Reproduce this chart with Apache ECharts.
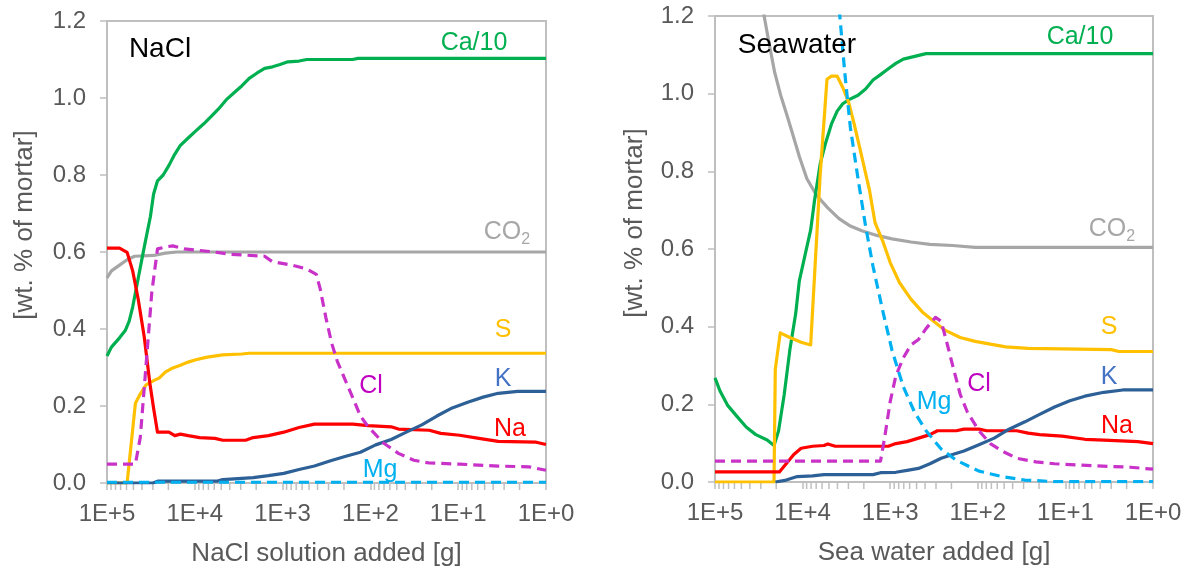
<!DOCTYPE html>
<html>
<head>
<meta charset="utf-8">
<script src="https://cdn.jsdelivr.net/npm/echarts@6/dist/echarts.min.js"></script>
<style>
  html, body { margin: 0; padding: 0; background: #ffffff; }
  #chart { width: 1195px; height: 572px; }
</style>
</head>
<body>
<div id="chart"></div>
<script>
// Mortar composition while solution is added; each pair is [grams added, wt.% of mortar].

// ---- NaCl solution ----
const naclCa10 = [[100000,0.33],[89000,0.353],[72000,0.377],[62000,0.396],[56000,0.42],[51000,0.457],[44000,0.533],[38000,0.608],[32000,0.693],[29500,0.75],[26600,0.785],[22900,0.80],[19700,0.825],[17000,0.853],[14600,0.877],[11900,0.896],[9800,0.914],[7900,0.933],[6500,0.952],[5400,0.971],[4400,0.995],[3600,1.013],[2900,1.032],[2400,1.051],[1950,1.065],[1600,1.077],[1300,1.081],[1070,1.087],[870,1.094],[650,1.096],[530,1.10],[160,1.10],[138,1.103],[1,1.103]];
const naclCO2 = [[100000,0.533],[89000,0.551],[72000,0.566],[59000,0.58],[48500,0.589],[29400,0.591],[21700,0.597],[16100,0.60],[1,0.60]];
const naclS = [[100000,0],[59000,0],[47500,0.207],[41800,0.231],[35900,0.255],[29400,0.266],[25300,0.273],[21700,0.288],[17800,0.299],[14600,0.306],[11900,0.314],[9750,0.32],[7200,0.327],[4830,0.333],[2920,0.335],[2390,0.337],[1,0.337]];
const naclNa = [[100000,0.61],[72000,0.61],[59000,0.599],[51000,0.551],[44000,0.476],[37800,0.382],[32500,0.259],[29400,0.193],[26600,0.132],[19700,0.132],[16900,0.123],[14600,0.127],[11900,0.123],[8800,0.118],[5900,0.116],[4800,0.111],[2640,0.111],[2160,0.118],[1450,0.123],[970,0.132],[650,0.144],[434,0.153],[159,0.153],[106,0.149],[58,0.146],[48,0.14],[21.4,0.137],[15.8,0.129],[9.6,0.124],[5.8,0.116],[3.5,0.108],[1.29,0.106],[1,0.10]];
const naclK = [[100000,0],[30000,0],[26000,0.005],[5500,0.005],[4800,0.009],[2160,0.014],[1450,0.019],[970,0.025],[650,0.035],[434,0.044],[290,0.057],[195,0.069],[130,0.08],[87,0.099],[58,0.113],[39,0.132],[26,0.151],[17.5,0.174],[11.7,0.195],[7.8,0.21],[5.2,0.223],[3.5,0.233],[2.1,0.238],[1,0.238]];
const naclCl = [[100000,0.049],[47500,0.049],[41800,0.118],[35900,0.306],[30900,0.495],[26600,0.608],[21700,0.613],[17800,0.616],[13200,0.608],[6500,0.601],[3950,0.594],[1600,0.589],[1310,0.575],[790,0.566],[530,0.556],[413,0.542],[373,0.504],[321,0.429],[276,0.363],[238,0.316],[195,0.269],[159,0.222],[130,0.174],[106,0.146],[71,0.104],[48,0.077],[32,0.059],[21.4,0.052],[9.6,0.049],[3.5,0.044],[1.57,0.042],[1,0.033]];
const naclMg = [[100000,0.002],[1,0.002]];

// ---- Sea water ----
const seaCa10 = [[100000,0.268],[87900,0.235],[72100,0.198],[56200,0.169],[43800,0.141],[34200,0.122],[25400,0.108],[21200,0.094],[18800,0.132],[16200,0.226],[14000,0.339],[12000,0.433],[10900,0.518],[9380,0.584],[8090,0.649],[7310,0.725],[6300,0.819],[5430,0.875],[4680,0.922],[4030,0.955],[3480,0.974],[2990,0.984],[2330,0.996],[1910,1.012],[1570,1.035],[1290,1.049],[1050,1.064],[863,1.078],[708,1.089],[525,1.096],[390,1.103],[1,1.103]];
const seaCO2 = [[35000,1.33],[27500,1.2],[24100,1.129],[20800,1.054],[17900,0.998],[15400,0.951],[13300,0.904],[10900,0.838],[8930,0.781],[6970,0.739],[5160,0.706],[3840,0.678],[2850,0.659],[2110,0.647],[1420,0.635],[953,0.626],[580,0.618],[352,0.612],[194,0.609],[107,0.604],[1,0.604]];
const seaS = [[100000,0],[21200,0],[20500,0.29],[18000,0.384],[14000,0.372],[10400,0.36],[8090,0.353],[6300,0.791],[5270,1.037],[4680,1.045],[4030,1.045],[3480,1.016],[2990,0.979],[2580,0.922],[2110,0.838],[1730,0.753],[1490,0.668],[1220,0.621],[1000,0.565],[782,0.513],[580,0.471],[430,0.438],[319,0.414],[237,0.391],[159,0.372],[107,0.362],[72,0.355],[48,0.348],[26.6,0.344],[2.99,0.341],[2.45,0.336],[1,0.336]];
const seaNa = [[100000,0.026],[18400,0.026],[15400,0.047],[12600,0.071],[10400,0.087],[7690,0.092],[5700,0.094],[5160,0.098],[4240,0.092],[1050,0.092],[863,0.099],[641,0.104],[475,0.113],[352,0.122],[289,0.132],[176,0.132],[144,0.136],[97,0.136],[79,0.132],[36,0.132],[26.6,0.126],[19.7,0.122],[10.9,0.118],[6.0,0.11],[3.64,0.108],[1.49,0.104],[1,0.099]];
const seaK = [[20400,0],[15400,0.005],[11500,0.014],[7690,0.016],[5700,0.019],[1570,0.019],[1290,0.024],[863,0.025],[641,0.03],[475,0.035],[352,0.047],[262,0.061],[194,0.071],[144,0.08],[97,0.096],[65,0.113],[44,0.136],[29,0.155],[19.7,0.174],[13.3,0.193],[8.9,0.209],[6.0,0.221],[3.64,0.231],[2.21,0.237],[1,0.237]];
const seaCl = [[100000,0.054],[1290,0.054],[1160,0.113],[1000,0.207],[863,0.273],[708,0.32],[580,0.353],[475,0.367],[390,0.395],[304,0.424],[262,0.414],[225,0.358],[194,0.301],[159,0.226],[131,0.179],[97,0.132],[72,0.099],[53,0.08],[36,0.061],[21.8,0.052],[13.3,0.047],[4.9,0.042],[1.82,0.038],[1,0.033]];
const seaMg = [[4240,1.34],[3760,1.2],[3300,1.054],[2850,0.913],[2330,0.781],[1910,0.659],[1570,0.555],[1220,0.442],[953,0.339],[708,0.245],[525,0.179],[390,0.132],[262,0.085],[176,0.056],[97,0.028],[53,0.014],[29,0.005],[13.3,0.001],[1,0.001]];

// ---- axis text ----
const xTickLabels = ['1E+0', '1E+1', '1E+2', '1E+3', '1E+4', '1E+5'];
const minorSteps = [2, 3, 4, 5, 6, 7, 8, 9];
const decades = [1, 10, 100, 1000, 10000];

const FONT = '"Liberation Sans", Arial, sans-serif';
const AXIS_GREY = '#bfbfbf';
const TEXT_GREY = '#595959';
const C = {
  ca: '#00b050', co2: '#a6a6a6', s: '#ffc000', na: '#ff0000',
  k: '#2c6096', kText: '#4472c4', cl: '#c832c8', clText: '#c000c0', mg: '#00b0f0'
};

// minor tick positions of the log axis (2..9 within each decade)
const minorTicks = [];
decades.forEach(d => minorSteps.forEach(m => minorTicks.push([m * d, 0])));

function xAxisFor(gridIndex, title) {
  return {
    type: 'log', logBase: 10, gridIndex, min: 1, max: 100000, inverse: true, splitNumber: 5,
    name: title, nameLocation: 'middle', nameGap: 58,
    nameTextStyle: { fontFamily: FONT, fontSize: 26, color: TEXT_GREY },
    axisLine: { show: true, lineStyle: { color: AXIS_GREY, width: 2 } },
    axisTick: { show: true, inside: false, length: 7, lineStyle: { color: AXIS_GREY, width: 1.5 } },
    minorTick: { show: false },
    splitLine: { show: false },
    axisLabel: {
      margin: 19, fontFamily: FONT, fontSize: 24, color: TEXT_GREY,
      showMinLabel: true, showMaxLabel: true,
      formatter: v => xTickLabels[Math.round(Math.log10(v))]
    }
  };
}

function yAxisFor(gridIndex) {
  return {
    type: 'value', gridIndex, min: 0, max: 1.2, interval: 0.2,
    axisLine: { show: true, lineStyle: { color: AXIS_GREY, width: 2 } },
    axisTick: { show: true, inside: false, length: 7, lineStyle: { color: AXIS_GREY, width: 1.5 } },
    splitLine: { show: false },
    axisLabel: {
      margin: 21, fontFamily: FONT, fontSize: 24, color: TEXT_GREY,
      formatter: v => v.toFixed(1)
    }
  };
}

function line(idx, data, color, dashed) {
  return {
    type: 'line', xAxisIndex: idx, yAxisIndex: idx, data, symbol: 'none', clip: true,
    lineStyle: { color, width: 3.2, type: dashed ? [10, 6] : 'solid', cap: 'butt', join: 'round' },
    emphasis: { disabled: true }, silent: true
  };
}

function minorTickSeries(idx) {
  return {
    type: 'custom', xAxisIndex: idx, yAxisIndex: idx, data: minorTicks, clip: false, silent: true,
    renderItem: (params, api) => {
      const p = api.coord([api.value(0), 0]);
      return {
        type: 'line',
        shape: { x1: p[0], y1: p[1] + 1, x2: p[0], y2: p[1] + 7 },
        style: { stroke: AXIS_GREY, lineWidth: 1.5 }
      };
    }
  };
}

function label(text, x, y, color, size) {
  return {
    type: 'text', x, y, z: 100,
    style: { text, fill: color, font: `${size || 25}px ${FONT}`, align: 'center', verticalAlign: 'middle' }
  };
}

function co2Label(x, y) {
  return {
    type: 'text', x, y, z: 100,
    style: {
      text: '{a|CO}{b|2}', align: 'center', verticalAlign: 'middle', fill: C.co2,
      rich: {
        a: { fontFamily: FONT, fontSize: 25, fill: C.co2, verticalAlign: 'bottom', lineHeight: 28 },
        b: { fontFamily: FONT, fontSize: 16, fill: C.co2, verticalAlign: 'bottom', lineHeight: 16, padding: [0, 0, -3, 0] }
      }
    }
  };
}

function yTitle(x, y) {
  return {
    type: 'text', x, y, rotation: Math.PI / 2, z: 100,
    style: { text: '[wt. % of mortar]', fill: TEXT_GREY, font: `26px ${FONT}`, align: 'center', verticalAlign: 'middle' }
  };
}

const chart = echarts.init(document.getElementById('chart'), null, { renderer: 'canvas' });
chart.setOption({
  animation: false,
  backgroundColor: '#ffffff',
  grid: [
    { left: 107, top: 21, width: 439, height: 462, show: true, borderColor: AXIS_GREY, borderWidth: 2, backgroundColor: 'transparent' },
    { left: 715, top: 16, width: 438, height: 466, show: true, borderColor: AXIS_GREY, borderWidth: 2, backgroundColor: 'transparent' }
  ],
  xAxis: [xAxisFor(0, 'NaCl solution added [g]'), xAxisFor(1, 'Sea water added [g]')],
  yAxis: [yAxisFor(0), yAxisFor(1)],
  series: [
    minorTickSeries(0),
    line(0, naclCO2, C.co2), line(0, naclCa10, C.ca), line(0, naclS, C.s), line(0, naclNa, C.na),
    line(0, naclK, C.k), line(0, naclCl, C.cl, true), line(0, naclMg, C.mg, true),
    minorTickSeries(1),
    line(1, seaCO2, C.co2), line(1, seaCa10, C.ca), line(1, seaS, C.s), line(1, seaNa, C.na),
    line(1, seaK, C.k), line(1, seaCl, C.cl, true), line(1, seaMg, C.mg, true)
  ],
  graphic: [
    yTitle(25, 225), yTitle(635, 223),
    label('NaCl', 160, 49, '#000000', 28),
    label('Ca/10', 474, 43, C.ca), co2Label(507, 231), label('S', 503, 330, C.s),
    label('Cl', 371, 386, C.clText), label('K', 503, 379, C.kText), label('Na', 510, 429, C.na),
    label('Mg', 380, 470, C.mg),
    label('Seawater', 797, 45, '#000000', 28),
    label('Ca/10', 1080, 37, C.ca), co2Label(1112, 228), label('S', 1109, 327, C.s),
    label('Cl', 979, 384, C.clText), label('K', 1109, 377, C.kText), label('Na', 1117, 426, C.na),
    label('Mg', 934, 402, C.mg)
  ]
});
</script>
</body>
</html>
